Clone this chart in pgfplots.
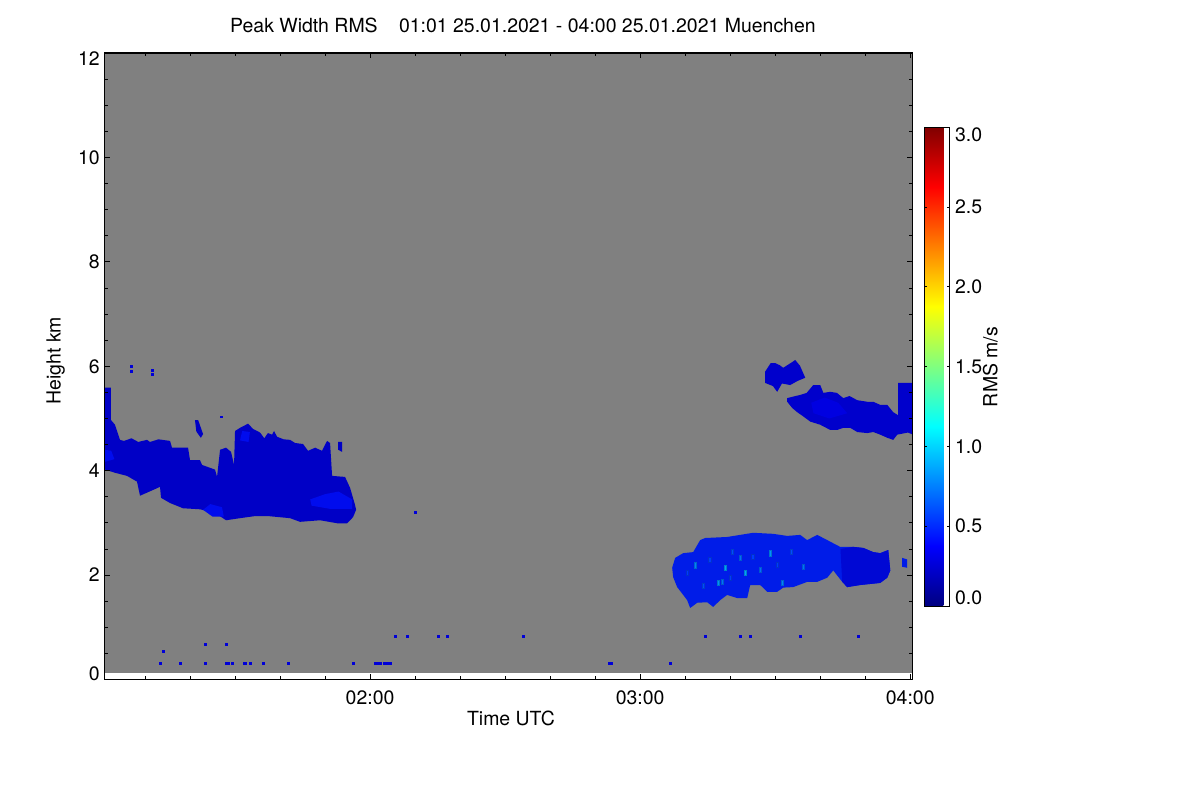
\documentclass[border=0pt]{standalone}
\usepackage{fontspec}
\setmainfont{TeX Gyre Heros}
\usepackage{pgfplots}
\pgfplotsset{compat=1.18}
\definecolor{cA}{RGB}{0,0,198}
\definecolor{cAb}{RGB}{0,12,238}
\definecolor{cB}{RGB}{0,28,232}
\definecolor{cBd}{RGB}{0,8,212}
\definecolor{cC}{RGB}{0,0,204}
\definecolor{cCb}{RGB}{0,0,225}
\definecolor{dotc}{RGB}{0,0,215}
\definecolor{bggray}{RGB}{128,128,128}
\begin{document}
\begin{tikzpicture}[font=\fontsize{14.6}{17.5}\selectfont]
\path[use as bounding box] (0,0) rectangle (900pt,600pt);
\begin{axis}[
  at={(78.375pt,90.375pt)}, anchor=south west,
  width=606pt, height=469.875pt, scale only axis,
  xmin=61, xmax=240.5, ymin=0, ymax=12,
  xtick={120,180,240}, xticklabels={02:00,03:00,04:00},
  minor xtick={70,80,...,230},
  ytick={0,2,...,12}, yticklabels={,2,4,6,8,10,},
  minor ytick={0.5,1,...,11.5},
  extra y ticks={0.115,11.885}, extra y tick labels={0,12},
  extra y tick style={major tick length=0pt},
  tick align=inside, major tick length=4pt, minor tick length=2.5pt,
  tick style={black, line width=0.6pt},
  axis line style={black, line width=0.8pt},
  xticklabel style={anchor=base, yshift=-18.75pt},
  yticklabel style={anchor=east, inner sep=0pt, xshift=-3.4pt},
  title={Peak Width RMS\hspace{16pt}01:01 25.01.2021 - 04:00 25.01.2021 Muenchen},
  title style={at={(0.5179,1.0192)}, anchor=base, inner sep=0pt},
  xlabel={Time UTC}, xlabel style={at={(0.503,-0.0742)}, anchor=base, inner sep=0pt},
  ylabel={Height km}, ylabel style={at={(-0.0542,0.509)}, anchor=base, inner sep=0pt},
  colormap/jet, point meta min=0, point meta max=3,
  colorbar,
  colorbar style={
    at={(parent axis.south east)}, anchor=south west,
    xshift=0.4pt, yshift=55.125pt,
    width=18.75pt, height=359.25pt, scale only axis,
    ytick={0.5,1,1.5,2,2.5},
    yticklabels={0.5,1.0,1.5,2.0,2.5},
    extra y ticks={0.05,2.95},
    extra y tick labels={0.0,3.0},
    extra y tick style={major tick length=0pt},
    yticklabel pos=right,
    yticklabel style={anchor=west, inner sep=0pt, xshift=4pt},
    major tick length=2pt,
    tick style={black, line width=0.4pt},
    axis line style={black, line width=0.6pt},
    /pgf/number format/assume math mode=true,
  },
  /pgf/number format/assume math mode=true,
  axis on top,
]
% background (no-signal region)
\addplot[draw=none, fill=bggray] coordinates {(61,0.12) (240.5,0.12) (240.5,12) (61,12)};

% left cloud
\addplot[draw=none, fill=cA] coordinates {
(61.11,5.59) (62.44,5.59) (62.44,4.97) (63.33,4.88) (64.44,4.59) (65.33,4.57) (67.0,4.62) (68.5,4.55) (70.44,4.59) (71.11,4.55)
(73.0,4.60) (75.56,4.57) (76.00,4.44) (79.56,4.44) (80.00,4.20) (82.22,4.20) (82.67,4.11) (85.56,4.02) (86.00,3.88)
(86.67,4.40) (88.00,4.44) (89.11,4.36) (89.78,4.11) (90.00,4.76) (91.11,4.82) (92.89,4.90) (94.00,4.80)
(95.56,4.73) (96.5,4.62) (97.3,4.72) (98.22,4.69) (98.67,4.76) (99.33,4.65) (100.8,4.60) (102.22,4.59) (103.33,4.53) (105.11,4.51) (106.22,4.38)
(107.8,4.44) (109.33,4.38) (110.44,4.57) (111.11,4.53) (111.56,3.90) (114.44,3.88) (115.56,3.67) (116.67,3.34) (116.89,3.25)
(116.22,3.11) (114.89,2.99) (112.89,2.99) (108.89,3.05) (104.44,3.02) (102.22,3.09) (97.33,3.13) (94.44,3.13)
(91.11,3.09) (88.00,3.05) (85.56,3.19) (82.22,3.26) (78.44,3.28) (75.56,3.38) (73.56,3.48) (73.33,3.69)
(71.78,3.63) (68.89,3.52) (68.22,3.79) (66.00,3.90) (63.33,3.96) (61.11,4.02)};
\addplot[draw=none, fill=cA] coordinates {(81.1,4.97) (81.8,4.97) (82.9,4.70) (82.4,4.63) (81.4,4.75)};
\addplot[draw=none, fill=cA] coordinates {(112.9,4.55) (113.8,4.55) (113.8,4.36) (112.9,4.40)};
% brighter patches in left cloud
\addplot[draw=none, fill=cAb] coordinates {(82.9,3.25) (84.5,3.36) (87.1,3.30) (87.5,3.12) (85.0,3.12)};
\addplot[draw=none, fill=cAb] coordinates {(106.7,3.45) (110.0,3.55) (113.0,3.60) (116.0,3.45) (116.0,3.27) (111.0,3.27) (107.0,3.33)};
\addplot[draw=none, fill=cAb] coordinates {(61.1,4.17) (61.1,4.40) (62.5,4.38) (63.2,4.22)};
\addplot[draw=none, fill=cAb] coordinates {(91.1,4.58) (91.6,4.76) (93.3,4.74) (93.0,4.55)};

% lower right cloud
\addplot[draw=none, fill=cB] coordinates {
(187.11,2.14) (187.78,2.33) (189.56,2.42) (191.78,2.44) (193.33,2.67) (194.44,2.71) (199.33,2.73) (202.22,2.77)
(205.11,2.81) (209.56,2.79) (212.67,2.75) (215.56,2.77) (217.11,2.67) (219.33,2.77) (221.56,2.67) (222.22,2.64)
(224.44,2.54) (227.33,2.54) (229.56,2.52) (231.78,2.44) (233.33,2.42) (235.11,2.48) (235.56,2.09) (234.89,1.95)
(233.33,1.85) (228.89,1.81) (226.00,1.77) (224.89,1.87) (222.89,2.09) (221.56,1.95) (219.33,1.87) (217.11,1.87)
(214.00,1.77) (211.78,1.76) (210.44,1.68) (208.22,1.68) (206.67,1.81) (204.44,1.81) (203.78,1.56) (201.56,1.56)
(199.33,1.62) (197.78,1.52) (196.22,1.39) (194.89,1.48) (192.67,1.47) (191.11,1.37) (190.44,1.52) (189.56,1.62)
(188.22,1.77) (187.33,1.96)};
\addplot[draw=none, fill=cBd] coordinates {(224.5,2.50) (227.3,2.54) (229.56,2.52) (231.78,2.44) (233.33,2.42)
(235.11,2.48) (235.56,2.09) (234.89,1.95) (233.33,1.85) (228.89,1.81) (226.0,1.77) (224.89,1.87)};
\addplot[draw=none, fill=cB] coordinates {(238.2,2.33) (239.3,2.30) (239.3,2.14) (238.2,2.16)};
% speckles
\addplot[scatter, only marks, mark=square*, mark size=0.9pt, mark options={yscale=2.2, draw=none},
  point meta=explicit] coordinates {
(192.22,2.19) [0.75] (198.89,2.14) [0.85] (198.22,1.87) [0.7] (197.33,1.85) [0.8] (202.22,2.33) [0.7]
(203.33,2.04) [0.85] (206.67,2.10) [0.7] (208.89,2.42) [0.8] (211.56,1.85) [0.75] (216.22,2.16) [0.7]
(190.5,2.05) [0.55] (195.5,2.30) [0.55] (200.5,2.45) [0.6] (205.0,2.35) [0.55] (210.5,2.20) [0.55]
(213.5,2.45) [0.6] (200.0,1.95) [0.55] (194.0,1.80) [0.6]};

% upper right clouds
\addplot[draw=none, fill=cC] coordinates {(207.78,5.90) (209.0,6.06) (210.0,6.06) (211.0,6.02) (211.78,5.97)
(213.78,6.08) (214.44,6.12) (215.5,6.01) (216.67,5.78) (215.0,5.72) (213.33,5.64) (211.5,5.67) (210.44,5.51)
(209.5,5.62) (207.78,5.68)};
\addplot[draw=none, fill=cC] coordinates {
(212.67,5.39) (214.5,5.43) (215.56,5.45) (217.0,5.49) (218.44,5.64) (220.0,5.64) (220.7,5.49) (222.22,5.51)
(223.7,5.49) (225.11,5.39) (226.5,5.43) (228.22,5.35) (230.44,5.32) (231.78,5.32) (233.33,5.26) (234.89,5.26)
(236.22,5.12) (237.33,5.06) (237.33,5.68) (238.89,5.68) (240.6,5.68) (240.6,4.69) (239.5,4.73) (237.11,4.69)
(236.22,4.59) (234.89,4.63) (233.33,4.69) (231.78,4.74) (230.44,4.72) (228.22,4.74) (226.67,4.82) (225.11,4.82)
(223.78,4.78) (222.22,4.78) (220.0,4.88) (217.78,4.94) (216.22,5.04) (214.89,5.12) (213.78,5.20) (212.67,5.32)};
\addplot[draw=none, fill=cCb] coordinates {(218.0,5.30) (221.0,5.40) (224.0,5.30) (226.0,5.10) (222.0,5.00) (218.5,5.10)};

% isolated pixels
\addplot[only marks, mark=square*, mark size=0.65pt, color=dotc, mark options={draw=none}] coordinates {
(73.33,0.316) (77.78,0.316) (83.33,0.316) (88.0,0.316) (88.44,0.316) (89.33,0.316) (92.0,0.316) (92.22,0.316)
(93.33,0.316) (96.22,0.316) (101.78,0.316) (116.22,0.316) (121.11,0.316) (121.6,0.316) (122.22,0.316)
(123.2,0.316) (123.78,0.316) (124.44,0.316) (173.1,0.316) (173.6,0.316) (186.67,0.316)
(83.33,0.68) (88.0,0.68) (74.0,0.546)
(125.56,0.833) (128.22,0.833) (135.11,0.833) (137.11,0.833) (154.0,0.833) (194.44,0.833) (202.22,0.833)
(204.44,0.833) (215.56,0.833) (228.44,0.833)
(130.0,3.21) (86.89,5.03)
(66.9,5.90) (66.9,6.00) (71.67,5.92) (71.67,5.85)};
\end{axis}
\node[rotate=90, anchor=base, inner sep=0pt] at (748.1pt,324.75pt) {RMS m/s};
\end{tikzpicture}
\end{document}
